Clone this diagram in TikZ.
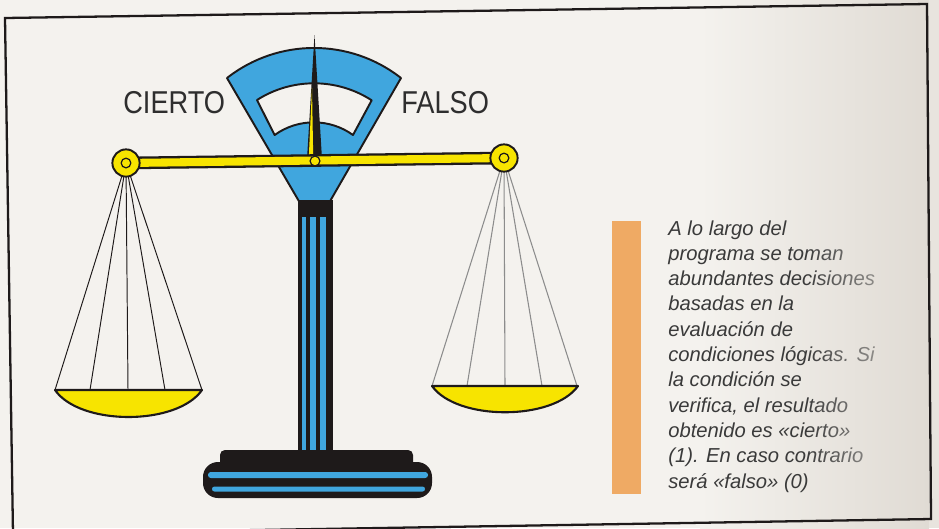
\documentclass[tikz,border=0pt]{standalone}
\usepackage{fontspec}
\setmainfont{Liberation Sans}
\usepackage{graphicx}
\usetikzlibrary{fadings}
\definecolor{paper}{RGB}{244,242,238}
\definecolor{paperdark}{RGB}{224,219,212}
\definecolor{dialblue}{RGB}{64,166,222}
\definecolor{brass}{RGB}{247,228,0}
\definecolor{ink}{RGB}{30,26,26}
\definecolor{tab}{RGB}{239,170,100}
\definecolor{txt}{RGB}{58,58,58}
\tikzfading[name=fadetoright, left color=transparent!100, right color=transparent!25]
\tikzset{
  dialline/.style={draw=ink, line width=1.1pt, line join=round},
  cord/.style={draw=ink, line width=0.55pt},
  greycord/.style={draw=black!45, line width=0.6pt},
  pan/.style={fill=brass, draw=ink, line width=1.2pt, line join=round},
  hookring/.style={circle, fill=brass, draw=ink, line width=1.1pt, minimum size=15.5pt, inner sep=0pt},
  hookeye/.style={circle, draw=ink, line width=0.7pt, minimum size=5.5pt, inner sep=0pt},
  sidetext/.style={font=\fontsize{18}{20}\selectfont, text=txt!80!black, inner sep=0pt},
  para/.style={font=\fontsize{11.5}{14}\selectfont\itshape, text=txt, inner sep=0pt},
}
\begin{document}
\begin{tikzpicture}[x=0.02cm, y=-0.02cm]
\useasboundingbox (0,0) rectangle (939,528);
\clip (0,0) rectangle (939,528);
% paper, darkening towards the spine
\fill[paper] (0,0) rectangle (939,528);
\shade[left color=paper, right color=paperdark] (700,0) rectangle (929,528);
\fill[paperdark!60!paper] (929,0) rectangle (939,528);
% frame
\draw[ink, line width=1.3pt, line join=miter] (5,18) -- (927,4) -- (931,519) -- (13,534) -- cycle;

% fixed points
\coordinate (L) at (126,163);
\coordinate (R) at (504,158);
\coordinate (P) at (315,161);

% left pan and its cords
\foreach \px in {55,90,128,165,202}
  \draw[cord] (L) -- (\px,390);
\path[pan] (55,390) -- (202,390) .. controls (177,426) and (80,426) .. cycle;

% right pan and its cords
\foreach \px in {432,467,505,542,577}
  \draw[greycord] (R) -- (\px,386);
\path[pan] (432,386) -- (578,386) .. controls (553,421) and (457,421) .. cycle;

% dial with its window
\path[fill=dialblue, dialline, even odd rule]
  (300,203) -- (227,78) arc[start angle=-128.1, end angle=-51.9, radius=141] -- (329,203) -- cycle
  (257,100) arc[start angle=-122.6, end angle=-57.1, radius=106] -- (353,135)
            arc[start angle=-54.2, end angle=-125.8, radius=67] -- cycle;

% column
\fill[ink] (298,200) rectangle (333,456);
\fill[dialblue] (302,217) rectangle (306,452);
\fill[dialblue] (309.5,217) rectangle (316,452);
\fill[dialblue] (319.5,217) rectangle (326,452);

% foot
\fill[ink, rounded corners=2.8pt] (220,450) rectangle (413,470);
\fill[ink, rounded corners=8.5pt] (203,462) rectangle (432,498);
\fill[dialblue, rounded corners=1.6pt] (208,472) rectangle (428,478);
\fill[dialblue, rounded corners=1.4pt] (212,486.5) rectangle (425,491.5);

% needle
\fill[ink] (307,159) -- (314.5,35) -- (322,159) -- cycle;
\fill[brass] (308.8,157) -- (312,88) -- (313.2,157) -- cycle;

% beam
\draw[ink, line width=7.2pt] (L) -- (R);
\draw[brass, line width=4.6pt] (L) -- (R);

% hooks and pivot
\node[hookring] (lhook) at (L) {};
\node[hookeye] (lhookeye) at (L) {};
\node[hookring] (rhook) at (R) {};
\node[hookeye] (rhookeye) at (R) {};
\node[circle, fill=brass, draw=ink, line width=0.7pt, minimum size=5.6pt, inner sep=0pt] (pivot) at (P) {};

% labels
\node[sidetext, anchor=base west] (cierto) at (123,113) {\scalebox{0.86}[1]{CIERTO}};
\node[sidetext, anchor=base west] (falso) at (401,113) {\scalebox{0.86}[1]{FALSO}};

% side note
\fill[tab] (612,221) rectangle (641,494);
\foreach \txtline [count=\i from 0] in {A lo largo del, programa se toman, abundantes decisiones, basadas en la, evaluación de, condiciones lógicas. Si, la condición se, {verifica, el resultado}, obtenido es «cierto», (1). En caso contrario, será «falso» (0)}
  \node[para, anchor=base west] (line\i) at (668,235+25.3*\i) {\txtline};
% washed-out line ends near the spine
\shade[left color=paperdark!46!paper, right color=paperdark!92!paper, path fading=fadetoright]
  (805,215) rectangle (912,500);
\end{tikzpicture}
\end{document}
